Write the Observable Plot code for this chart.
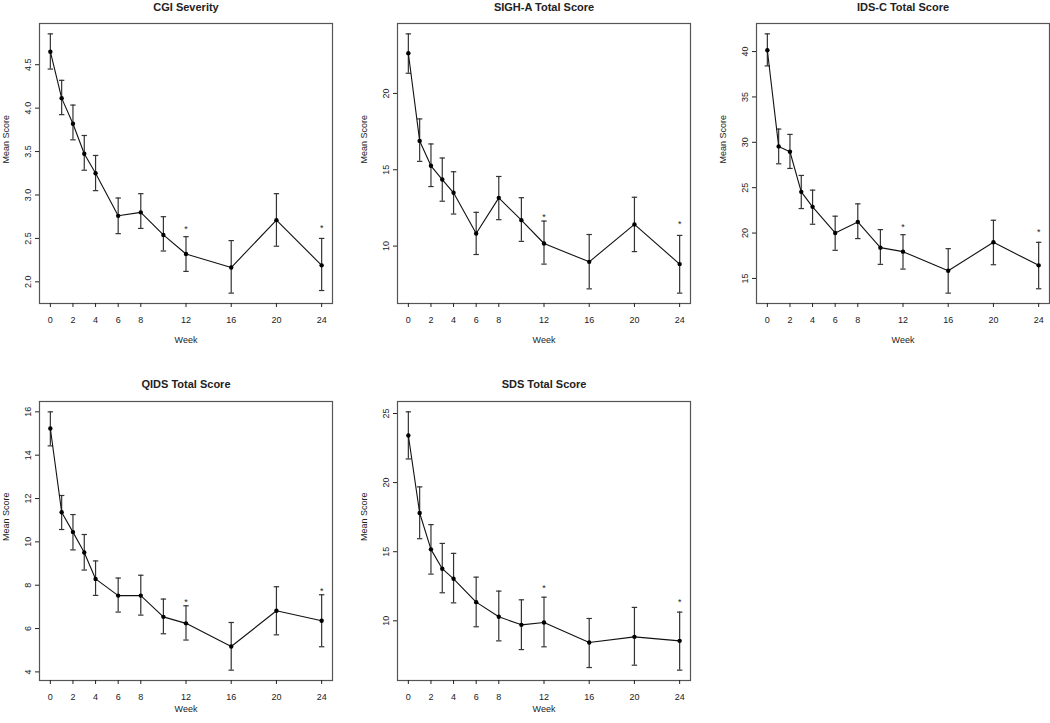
<!DOCTYPE html>
<html><head><meta charset="utf-8">
<script src="https://cdn.jsdelivr.net/npm/d3@7"></script>
<script src="https://cdn.jsdelivr.net/npm/@observablehq/plot@0.6"></script>
<style>
body{margin:0;background:#fff;overflow:hidden;}
#root{position:relative;width:1050px;height:723px;font-family:"Liberation Sans",Arial,sans-serif;}
#root svg{position:absolute;}
</style></head><body><div id="root"></div>
<script>
const weeks = [0, 1, 2, 3, 4, 6, 8, 10, 12, 16, 20, 24];
const xTicks = [0, 2, 4, 6, 8, 12, 16, 20, 24];
const starWeeks = [12, 24];

const cgiMean  = [4.65, 4.115, 3.82, 3.475, 3.25, 2.76, 2.80, 2.54, 2.32, 2.165, 2.71, 2.19];
const cgiLower = [4.45, 3.925, 3.635, 3.285, 3.05, 2.555, 2.615, 2.355, 2.12, 1.87, 2.41, 1.90];
const cgiUpper = [4.855, 4.32, 4.035, 3.685, 3.455, 2.965, 3.015, 2.75, 2.52, 2.475, 3.015, 2.50];
const cgiStars = [2.62, 2.625];
const cgiTicks = [2.0, 2.5, 3.0, 3.5, 4.0, 4.5];

const sighMean  = [22.63, 16.89, 15.26, 14.36, 13.49, 10.83, 13.16, 11.7, 10.17, 8.97, 11.42, 8.82];
const sighLower = [21.32, 15.55, 13.9, 12.94, 12.1, 9.45, 11.73, 10.31, 8.82, 7.2, 9.64, 6.92];
const sighUpper = [23.9, 18.33, 16.69, 15.77, 14.87, 12.21, 14.56, 13.17, 11.64, 10.76, 13.2, 10.7];
const sighStars = [11.96, 11.48];
const sighTicks = [10, 15, 20];

const idsMean  = [40.15, 29.55, 28.96, 24.54, 22.89, 20.01, 21.23, 18.39, 17.95, 15.85, 18.98, 16.44];
const idsLower = [38.42, 27.63, 27.12, 22.7, 20.97, 18.1, 19.39, 16.55, 16.03, 13.38, 16.51, 13.86];
const idsUpper = [41.95, 31.46, 30.87, 26.35, 24.73, 21.86, 23.22, 20.38, 19.82, 18.28, 21.41, 18.98];
const idsStars = [20.74, 20.26];
const idsTicks = [15, 20, 25, 30, 35, 40];

const qidsMean  = [15.23, 11.37, 10.45, 9.51, 8.29, 7.52, 7.52, 6.54, 6.24, 5.17, 6.82, 6.36];
const qidsLower = [14.43, 10.57, 9.63, 8.7, 7.53, 6.76, 6.62, 5.76, 5.47, 4.08, 5.71, 5.16];
const qidsUpper = [16.0, 12.14, 11.26, 10.34, 9.12, 8.33, 8.46, 7.36, 7.05, 6.28, 7.93, 7.56];
const qidsStars = [7.27, 7.78];
const qidsTicks = [4, 6, 8, 10, 12, 14, 16];

const sdsMean  = [23.41, 17.8, 15.17, 13.77, 13.04, 11.35, 10.29, 9.71, 9.88, 8.43, 8.84, 8.55];
const sdsLower = [21.71, 15.94, 13.38, 12.03, 11.3, 9.57, 8.55, 7.92, 8.12, 6.62, 6.79, 6.43];
const sdsUpper = [25.12, 19.69, 16.96, 15.6, 14.88, 13.16, 12.15, 11.52, 11.71, 10.17, 10.97, 10.63];
const sdsStars = [12.44, 11.43];
const sdsTicks = [10, 15, 20, 25];

const ML = 39, MR = 1, MT = 23, MB = 43, BW = 293;

const panels = [
  {title: "CGI Severity", mean: cgiMean, lower: cgiLower, upper: cgiUpper, stars: cgiStars, ticks: cgiTicks, fmt: ".1f", left: 0, top: 0, bh: 280, tdy: -20, wdy: 39},
  {title: "SIGH-A Total Score", mean: sighMean, lower: sighLower, upper: sighUpper, stars: sighStars, ticks: sighTicks, fmt: "d", left: 358, top: 0, bh: 280, tdy: -20, wdy: 39},
  {title: "IDS-C Total Score", mean: idsMean, lower: idsLower, upper: idsUpper, stars: idsStars, ticks: idsTicks, fmt: "d", left: 717, top: 0, bh: 280, tdy: -20, wdy: 39},
  {title: "QIDS Total Score", mean: qidsMean, lower: qidsLower, upper: qidsUpper, stars: qidsStars, ticks: qidsTicks, fmt: "d", left: 0, top: 378, bh: 279, tdy: -21, wdy: 31},
  {title: "SDS Total Score", mean: sdsMean, lower: sdsLower, upper: sdsUpper, stars: sdsStars, ticks: sdsTicks, fmt: "d", left: 358, top: 378, bh: 279, tdy: -21, wdy: 31}
];

const cap = {draw(ctx) { ctx.moveTo(-2.7, 0); ctx.lineTo(2.7, 0); }};

function makePanel(p) {
  const rows = weeks.map((w, i) => ({week: w, mean: p.mean[i], lo: p.lower[i], hi: p.upper[i]}));
  const stars = starWeeks.map((w, i) => ({week: w, y: p.stars[i]}));
  const all = [...p.lower, ...p.upper];
  const ymin = d3.min(all), ymax = d3.max(all), yr = ymax - ymin;
  const xmin = d3.min(weeks), xmax = d3.max(weeks), xr = xmax - xmin;
  const svg = Plot.plot({
    width: ML + BW + MR,
    height: MT + p.bh + MB,
    marginLeft: ML, marginRight: MR, marginTop: MT, marginBottom: MB,
    style: {fontFamily: '"Liberation Sans", Arial, sans-serif', fontSize: "9px", color: "#222", background: "transparent", overflow: "visible"},
    x: {domain: [xmin - 0.04 * xr, xmax + 0.04 * xr]},
    y: {domain: [ymin - 0.04 * yr, ymax + 0.04 * yr]},
    marks: [
      Plot.frame({stroke: "#555", strokeWidth: 1.2}),
      Plot.axisX({ticks: xTicks, tickSize: 4, tickPadding: 9, tickFormat: d => String(d), label: null, fontSize: 9}),
      Plot.axisY({ticks: p.ticks, tickSize: 4, tickPadding: 5, tickRotate: -90, tickFormat: d3.format(p.fmt), label: null, fontSize: 9}),
      Plot.ruleX(rows, {x: "week", y1: "lo", y2: "hi", stroke: "#333", strokeWidth: 1.2}),
      Plot.dot(rows, {x: "week", y: "lo", symbol: cap, r: 3, fill: "none", stroke: "#333", strokeWidth: 1.2}),
      Plot.dot(rows, {x: "week", y: "hi", symbol: cap, r: 3, fill: "none", stroke: "#333", strokeWidth: 1.2}),
      Plot.line(rows, {x: "week", y: "mean", stroke: "#111", strokeWidth: 1.1}),
      Plot.dot(rows, {x: "week", y: "mean", fill: "#000", r: 2.2}),
      Plot.text(stars, {x: "week", y: "y", text: () => "*", fontSize: 9, dy: 1}),
      Plot.text([p.title], {text: d => d, frameAnchor: "top", dy: p.tdy, fontWeight: "bold", fontSize: 11}),
      Plot.text(["Mean Score"], {text: d => d, frameAnchor: "left", dx: -33, rotate: -90, fontSize: 9}),
      Plot.text(["Week"], {text: d => d, frameAnchor: "bottom", dy: p.wdy, fontSize: 9})
    ]
  });
  svg.style.left = p.left + "px";
  svg.style.top = p.top + "px";
  document.getElementById("root").appendChild(svg);
}
panels.forEach(makePanel);
</script>
</body></html>
